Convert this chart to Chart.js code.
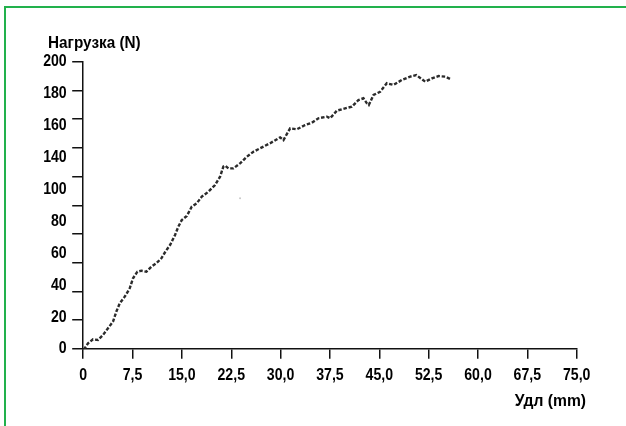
<!DOCTYPE html>
<html><head><meta charset="utf-8">
<script src="https://cdn.jsdelivr.net/npm/chart.js@4/dist/chart.umd.min.js"></script>
<style>
html,body{margin:0;padding:0;background:#fff;}
#wrap{position:relative;width:626px;height:426px;overflow:hidden;background:#fff;}
#c{position:absolute;left:0;top:0;}
#frame{position:absolute;left:4px;top:6px;width:700px;height:500px;border-left:2px solid #22b14c;border-top:2px solid #22b14c;pointer-events:none;}
</style></head><body>
<div id="wrap"><canvas id="c" width="626" height="426"></canvas><div id="frame"></div></div>
<script>
// Elongation (mm) and load (N)
const elongationMm = [0.1,0.73,1.49,2.25,3.01,3.77,4.53,5.03,5.55,6.31,7.07,7.57,8.23,8.84,9.60,10.36,11.12,11.88,12.48,13.20,13.96,14.46,14.98,15.74,16.50,17.26,18.02,19.02,20.04,20.80,21.30,21.56,22.07,22.83,23.84,24.86,25.87,26.89,28.41,29.93,30.43,31.45,32.47,33.73,34.75,35.75,37.03,37.53,38.55,39.81,40.83,41.83,42.59,43.11,43.40,44.12,45.13,46.15,47.16,48.43,49.70,50.61,51.98,53.00,54.00,55.02,55.78];
const loadN = [-0.5,3.8,6.6,6.1,9.6,14.3,18.9,25.8,31.7,36.3,42.1,49.1,53.7,54.4,53.7,57.2,59.6,63.0,67.6,72.3,79.3,85.1,89.7,92.5,99.0,101.4,106.0,109.4,114.1,119.9,126.9,127.6,125.7,125.7,129.2,133.8,137.3,139.7,143.2,147.3,145.4,153.6,152.9,155.9,157.5,160.6,161.7,160.6,165.9,167.5,168.7,173.3,174.5,171.0,169.8,176.8,179.1,185.0,183.8,187.3,189.6,190.7,186.1,188.4,190.0,189.6,188.0];
// stray speck in the picture
const speckMm = [23.84];
const speckN = [104.8];

const xTickValues = [0,7.5,15,22.5,30,37.5,45,52.5,60,67.5,75];
const xTickLabels = ['0','7,5','15,0','22,5','30,0','37,5','45,0','52,5','60,0','67,5','75,0'];
// the printed y labels are spread evenly (10 labels) along the axis, bottom to top
const yTickLabels = ['0','20','40','60','80','100','140','160','180','200'];
const yTitle = 'Нагрузка (N)';
const xTitle = 'Удл (mm)';

const FONT = 'bold 17px "Liberation Sans",Arial,sans-serif';

const curve = elongationMm.map((x, i) => ({x, y: loadN[i]}));
const speck = speckMm.map((x, i) => ({x, y: speckN[i]}));

function drawNarrow(ctx, text, x, y, align, sx) {
  ctx.save();
  ctx.translate(x, y);
  ctx.scale(sx, 1);
  ctx.textAlign = align;
  ctx.fillText(text, 0, 0);
  ctx.restore();
}

const textLayer = {
  id: 'textLayer',
  afterDraw(chart) {
    const ctx = chart.ctx;
    const xs = chart.scales.x, yl = chart.scales.yLab;
    ctx.save();
    ctx.font = FONT;
    ctx.fillStyle = '#000';
    ctx.textBaseline = 'middle';
    xTickValues.forEach((v, i) => drawNarrow(ctx, xTickLabels[i], xs.getPixelForValue(v), 375, 'center', 0.83));
    yTickLabels.forEach((t, i) => drawNarrow(ctx, t, 66.7, yl.getPixelForValue(i), 'right', 0.83));
    drawNarrow(ctx, yTitle, 48, 43, 'left', 0.9);
    drawNarrow(ctx, xTitle, 586, 401, 'right', 0.92);
    ctx.restore();
  }
};

new Chart(document.getElementById('c'), {
  type: 'line',
  data: {
    datasets: [
      {
        data: curve,
        xAxisID: 'x', yAxisID: 'y',
        borderColor: '#2b2b2b',
        borderWidth: 2.4,
        borderDash: [3.5, 1.8],
        pointRadius: 0,
        tension: 0,
        fill: false
      },
      {
        type: 'scatter',
        data: speck,
        xAxisID: 'x', yAxisID: 'y',
        pointRadius: 1,
        pointBackgroundColor: '#c8c8c8',
        pointBorderWidth: 0
      }
    ]
  },
  options: {
    responsive: false,
    devicePixelRatio: 1,
    animation: false,
    events: [],
    layout: {padding: {left: 72.2, top: 61.7, right: 49.3, bottom: 67.2}},
    plugins: {legend: {display: false}, tooltip: {enabled: false}, title: {display: false}},
    scales: {
      x: {
        type: 'linear',
        min: 0, max: 75,
        afterFit: s => { s.height = 10; },
        afterBuildTicks: s => { s.ticks = xTickValues.map(v => ({value: v})); },
        ticks: {display: false, autoSkip: false},
        grid: {drawOnChartArea: false, drawTicks: true, tickLength: 10, color: '#111', lineWidth: 1.5},
        border: {display: true, color: '#111', width: 1.5}
      },
      yLab: {
        type: 'linear',
        position: 'left',
        weight: 1,
        min: 0, max: yTickLabels.length - 1,
        afterFit: s => { s.width = 0; },
        ticks: {display: false},
        grid: {display: false, drawTicks: false},
        border: {display: false}
      },
      y: {
        type: 'linear',
        position: 'left',
        weight: 0,
        min: 0, max: 200,
        afterFit: s => { s.width = 11; },
        ticks: {display: false, stepSize: 20},
        grid: {drawOnChartArea: false, drawTicks: true, tickLength: 11, color: '#111', lineWidth: 1.5},
        border: {display: true, color: '#111', width: 1.5}
      }
    }
  },
  plugins: [textLayer]
});
</script>
</body></html>
